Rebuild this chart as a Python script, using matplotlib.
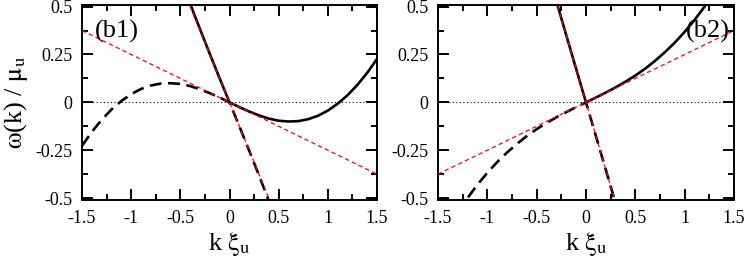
import numpy as np
import matplotlib
matplotlib.use("Agg")
import matplotlib.pyplot as plt
from matplotlib.ticker import MultipleLocator

plt.rcParams['font.family'] = ['Liberation Serif', 'DejaVu Serif']
plt.rcParams['mathtext.fontset'] = 'stix'

# panel (b1): branches of the dispersion
k1_pos = [-0.40, -0.35, -0.30, -0.20, -0.10, 0.0, 0.1, 0.2, 0.3, 0.4, 0.5, 0.6,
          0.7, 0.8, 0.9, 1.0, 1.1, 1.2, 1.3, 1.4, 1.5]
w1_pos = [0.515, 0.448, 0.382, 0.252, 0.125, 0.0, -0.025, -0.048, -0.068, -0.085,
          -0.096, -0.100, -0.098, -0.088, -0.070, -0.043, -0.007, 0.037, 0.091,
          0.154, 0.227]
k1_neg = [-1.5, -1.4, -1.3, -1.2, -1.1, -1.0, -0.9, -0.8, -0.7, -0.6, -0.5, -0.4,
          -0.3, -0.2, -0.1, 0.0, 0.1, 0.2, 0.3, 0.35, 0.40]
w1_neg = [-0.227, -0.154, -0.091, -0.037, 0.007, 0.043, 0.070, 0.088, 0.098, 0.100,
          0.096, 0.085, 0.068, 0.048, 0.025, 0.0, -0.125, -0.252, -0.382, -0.448,
          -0.515]
# tangent lines at k=0
k_line = [-1.5, 1.5]
w1_slow = [0.375, -0.375]
w1_fast = [1.875, -1.875]

# panel (b2)
k2_pos = [-0.30, -0.20, -0.10, 0.0, 0.1, 0.2, 0.3, 0.4, 0.5, 0.6, 0.7, 0.8, 0.9,
          1.0, 1.1, 1.2, 1.3]
w2_pos = [0.528, 0.351, 0.175, 0.0, 0.025, 0.051, 0.078, 0.108, 0.140, 0.176,
          0.217, 0.262, 0.312, 0.368, 0.430, 0.499, 0.576]
k2_neg = [-1.3, -1.2, -1.1, -1.0, -0.9, -0.8, -0.7, -0.6, -0.5, -0.4, -0.3, -0.2,
          -0.1, 0.0, 0.1, 0.2, 0.3]
w2_neg = [-0.576, -0.499, -0.430, -0.368, -0.312, -0.262, -0.217, -0.176, -0.140,
          -0.108, -0.078, -0.051, -0.025, 0.0, -0.175, -0.351, -0.528]
w2_slow = [-0.375, 0.375]
w2_fast = [2.625, -2.625]

fig = plt.figure(figsize=(7.47, 2.61), dpi=100)
ax1 = fig.add_axes([0.1098, 0.2337, 0.3949, 0.7483])
ax2 = fig.add_axes([0.5863, 0.2337, 0.3963, 0.7483])

panels = [(ax1, k1_pos, w1_pos, k1_neg, w1_neg, w1_slow, w1_fast, '(b1)', -1.37, 'left'),
          (ax2, k2_pos, w2_pos, k2_neg, w2_neg, w2_slow, w2_fast, '(b2)', 1.46, 'right')]

for ax, kp, wp, kn, wn, ws, wf, tag, tx, ha in panels:
    ax.axhline(0, color='black', lw=0.8, ls=(0, (1, 2.2)), zorder=1)
    ax.plot(kp, wp, color='black', lw=1.9, zorder=2)
    ax.plot(kn, wn, color='black', lw=1.9, ls=(0, (4.5, 2.5)), zorder=2)
    ax.plot(k_line, ws, color='red', lw=0.9, ls=(0, (3.5, 2.5)), zorder=3)
    ax.plot(k_line, wf, color='red', lw=0.9, ls=(0, (3.5, 2.5)), zorder=3)
    ax.text(tx, 0.37, tag, fontsize=19, ha=ha, va='center')

    ax.set_xlim(-1.5, 1.5)
    ax.set_ylim(-0.51, 0.51)
    ax.xaxis.set_minor_locator(MultipleLocator(0.25))
    ax.yaxis.set_minor_locator(MultipleLocator(0.125))
    ax.set_xticks([-1.5, -1, -0.5, 0, 0.5, 1, 1.5])
    ax.set_xticklabels(['-1.5', '-1', '-0.5', '0', '0.5', '1', '1.5'])
    ax.set_yticks([-0.5, -0.25, 0, 0.25, 0.5])
    ax.set_yticklabels(['-0.5', '-0.25', '0', '0.25', '0.5'])
    ax.tick_params(which='both', direction='in', top=True, right=True,
                   labelsize=13, width=1.4, pad=7)
    ax.tick_params(which='major', length=8)
    ax.tick_params(which='minor', length=4)
    for sp in ax.spines.values():
        sp.set_linewidth(1.4)
    ax.set_xlabel(r'k $\mathrm{\xi}_\mathrm{u}$', fontsize=19, labelpad=2)

ax1.set_ylabel(r'$\mathrm{\omega}$(k) / $\mathrm{\mu}_\mathrm{u}$', fontsize=19, labelpad=4)

fig.savefig('out.png', dpi=100)
